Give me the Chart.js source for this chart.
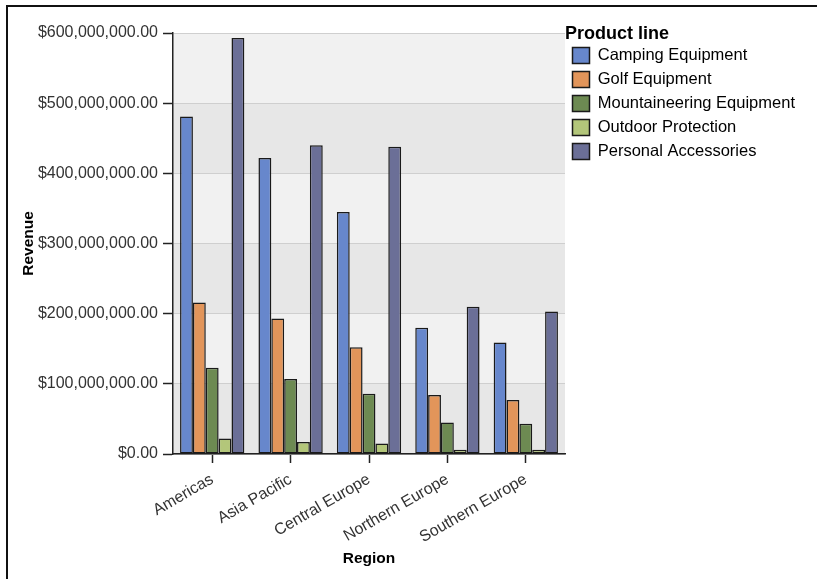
<!DOCTYPE html>
<html>
<head>
<meta charset="utf-8">
<title>Revenue by Region</title>
<script src="https://cdn.jsdelivr.net/npm/chart.js@4.4.1/dist/chart.umd.min.js"></script>
<style>
    html, body { margin: 0; padding: 0; background: #fff; }
    #frame {
        position: absolute; left: 6px; top: 5px; width: 900px; height: 700px;
        border-top: 2px solid #111; border-left: 2px solid #111;
    }
    #wrap { position: absolute; left: 0; top: 0; width: 817px; height: 579px; }
</style>
</head>
<body>
<div id="frame"></div>
<div id="wrap"><canvas id="revenueChart"></canvas></div>
<script>
// Datos
const regiones = ["Americas", "Asia Pacific", "Central Europe", "Northern Europe", "Southern Europe"];
const lineas = ["Camping Equipment", "Golf Equipment", "Mountaineering Equipment", "Outdoor Protection", "Personal Accessories"];

const camping = [481000000, 422000000, 345000000, 180000000, 159000000];
const golf = [216000000, 193000000, 152000000, 84000000, 77000000];
const mountaineering = [123000000, 107000000, 86000000, 45000000, 43000000];
const outdoor = [22000000, 17000000, 15000000, 6000000, 6000000];
const personal = [593000000, 440000000, 438000000, 210000000, 203000000];

const yMax = 600000000;
const yStep = 100000000;

const colores = ["#6787cc", "#e2955a", "#6d8a52", "#b3c67a", "#6b6f97"];
const series = [camping, golf, mountaineering, outdoor, personal];

const fuente = "Liberation Sans, Arial, sans-serif";

// Bandas grises alternas detras de las barras
const bandas = {
    id: "bandas",
    beforeDraw(chart) {
        const { ctx, chartArea } = chart;
        const y = chart.scales.y;
        const ticks = y.ticks;
        ctx.save();
        for (let i = 0; i < ticks.length - 1; i++) {
            const y0 = y.getPixelForValue(ticks[i].value);
            const y1 = y.getPixelForValue(ticks[i + 1].value);
            ctx.fillStyle = i % 2 === 0 ? "#e7e7e7" : "#f1f1f1";
            ctx.fillRect(chartArea.left, y1, chartArea.right - chartArea.left, y0 - y1);
        }
        ctx.restore();
    }
};

// La leyenda necesita mas ancho que el limite por defecto
const anchoLeyenda = {
    id: "anchoLeyenda",
    beforeLayout(chart) {
        const legend = chart.legend;
        if (!legend || legend._anchoFijo) return;
        const fitOriginal = legend.fit;
        legend.fit = function () {
            fitOriginal.call(this);
            this.width = 252;
        };
        legend._anchoFijo = true;
    }
};

new Chart(document.getElementById("revenueChart"), {
    type: "bar",
    data: {
        labels: regiones,
        datasets: lineas.map((nombre, i) => ({
            label: nombre,
            data: series[i],
            backgroundColor: colores[i],
            borderColor: "#1a1a1a",
            borderWidth: 1.5,
            borderSkipped: false,
            categoryPercentage: 0.82,
            barPercentage: 1
        }))
    },
    options: {
        responsive: true,
        maintainAspectRatio: false,
        animation: false,
        layout: { padding: { top: 20, right: 0, bottom: 0, left: 0 } },
        plugins: {
            tooltip: { enabled: false },
            legend: {
                position: "right",
                align: "start",
                title: {
                    display: true,
                    text: "Product line",
                    position: "start",
                    color: "#000",
                    font: { family: fuente, size: 18, weight: "bold", lineHeight: 0.82 },
                    padding: { top: 5, bottom: 0 }
                },
                labels: {
                    boxWidth: 17,
                    boxHeight: 16,
                    padding: 7.5,
                    color: "#000",
                    font: { family: fuente, size: 16.5 }
                }
            }
        },
        scales: {
            x: {
                grid: { drawOnChartArea: false, offset: false, tickLength: 9, tickColor: "#222", tickWidth: 1.5 },
                border: { color: "#222", width: 1.5 },
                ticks: {
                    color: "#333",
                    font: { family: fuente, size: 16 },
                    minRotation: 30,
                    maxRotation: 30,
                    padding: 7
                },
                title: {
                    display: true,
                    text: "Region",
                    color: "#000",
                    font: { family: fuente, size: 15.5, weight: "bold" },
                    padding: { top: 0, bottom: 11 }
                },
                afterFit: s => { s.height = 125; }
            },
            y: {
                min: 0,
                max: yMax,
                ticks: {
                    stepSize: yStep,
                    color: "#333",
                    padding: 5,
                    font: { family: fuente, size: 16 },
                    callback: v => "$" + v.toLocaleString("en-US", { minimumFractionDigits: 2, maximumFractionDigits: 2 })
                },
                grid: { color: "#cfcfcf", tickColor: "#222", tickLength: 10, tickWidth: 1.5 },
                border: { color: "#222", width: 1.5 },
                title: {
                    display: true,
                    text: "Revenue",
                    color: "#000",
                    font: { family: fuente, size: 15.5, weight: "bold" },
                    padding: { top: 19, bottom: 0 }
                },
                afterFit: s => { s.width = 173; s.paddingTop = 33; }
            }
        }
    },
    plugins: [bandas, anchoLeyenda]
});
</script>
</body>
</html>
